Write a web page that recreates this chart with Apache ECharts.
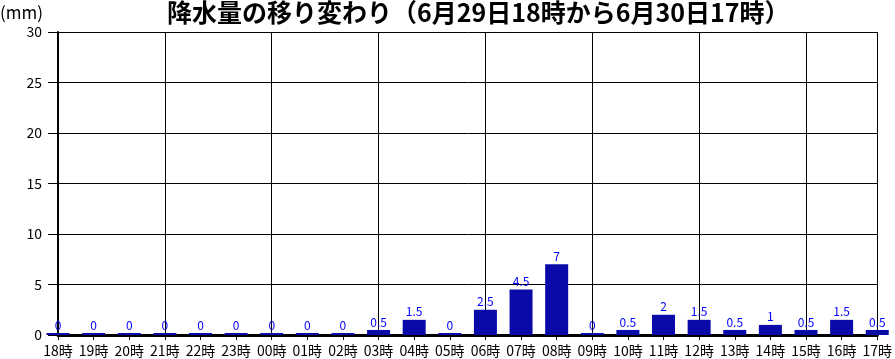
<!DOCTYPE html>
<html><head><meta charset="utf-8">
<script src="https://cdn.jsdelivr.net/npm/echarts@6/dist/echarts.min.js"></script>
<style>html,body{margin:0;padding:0;background:#fff}#c{width:895px;height:359px}</style>
</head><body><div id="c"></div>
<script>
const categories = ['18時','19時','20時','21時','22時','23時','00時','01時','02時','03時','04時','05時','06時','07時','08時','09時','10時','11時','12時','13時','14時','15時','16時','17時'];
const rainfall = [0,0,0,0,0,0,0,0,0,0.5,1.5,0,2.5,4.5,7,0,0.5,2,1.5,0.5,1,0.5,1.5,0.5];
const titleText = '降水量の移り変わり（6月29日18時から6月30日17時）';
const unitText = '(mm)';

const FONT = '"Noto Sans CJK JP", "Noto Sans", sans-serif';
const chart = echarts.init(document.getElementById('c'), null, {renderer:'canvas'});
chart.setOption({
  animation: false,
  backgroundColor: '#fff',
  title: {
    text: titleText, left: 162, top: -5,
    textStyle: {fontFamily: FONT, fontSize: 25, fontWeight: 'bold', color: '#000'}
  },
  graphic: [{type:'text', left: 0, top: 4, style:{text: unitText, font: '17px ' + FONT, fill:'#000'}}],
  grid: {left: 58, right: 14, top: 32, bottom: 24},
  xAxis: {
    type: 'category', data: categories, boundaryGap: false,
    axisLine: {lineStyle: {color: '#000', width: 3}},
    axisTick: {show: true, length: 5, interval: 0, lineStyle: {color: '#000'}},
    axisLabel: {interval: 0, color: '#000', fontFamily: FONT, fontSize: 14, margin: 9},
    splitLine: {show: true, interval: 2, lineStyle: {color: '#000', width: 1}}
  },
  yAxis: {
    type: 'value', min: 0, max: 30, interval: 5,
    axisLine: {show: true, lineStyle: {color: '#000', width: 2}},
    axisTick: {show: true, length: 10, lineStyle: {color: '#000'}},
    axisLabel: {color: '#000', fontFamily: FONT, fontSize: 14, margin: 16},
    splitLine: {show: true, lineStyle: {color: '#000', width: 1}}
  },
  series: [{
    type: 'bar', data: rainfall, barWidth: 23, barMinHeight: 2, clip: false,
    itemStyle: {color: '#0a0aa8'},
    label: {show: true, position: 'top', distance: 2, color: '#0000ff', fontFamily: FONT, fontSize: 12}
  }]
});
</script></body></html>
